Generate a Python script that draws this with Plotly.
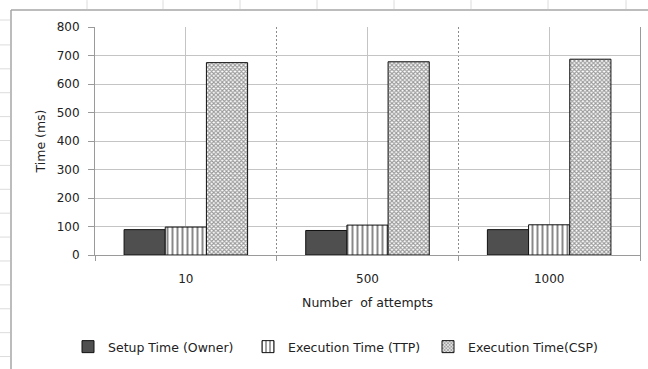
import plotly.graph_objects as go

categories = ["10", "500", "1000"]
setup_owner = [89, 86, 89]
exec_ttp = [98, 105, 106]
exec_csp = [675, 678, 687]
series_names = ["Setup Time (Owner)", "Execution Time (TTP)", "Execution Time(CSP)"]
y_ticks = [0, 100, 200, 300, 400, 500, 600, 700, 800]

W, H = 648, 369
L, R, T, B = 95, 8, 27, 113
PW, PH = W - L - R, H - T - B

def px(x):
    return (x - L) / PW

def py(y):
    return (H - B - y) / PH

xpos = list(range(len(categories)))
family = "DejaVu Sans, Verdana, sans-serif"
tick_font = dict(family=family, size=12, color="#222222")
title_font = dict(family=family, size=12.5, color="#222222")
legend_font = dict(family=family, size=12.5, color="#222222")

fig = go.Figure()
fig.add_trace(go.Bar(
    x=xpos, y=setup_owner, name=series_names[0],
    marker=dict(color="#4f4f4f", line=dict(color="#111111", width=1)),
))
fig.add_trace(go.Bar(
    x=xpos, y=exec_ttp, name=series_names[1],
    marker=dict(color="white", line=dict(color="#111111", width=1),
                pattern=dict(shape="|", size=5, solidity=0.4, fgcolor="#111111", bgcolor="white", fillmode="overlay")),
))
fig.add_trace(go.Bar(
    x=xpos, y=exec_csp, name=series_names[2],
    marker=dict(color="white", line=dict(color="#111111", width=1),
                pattern=dict(shape="x", size=3, solidity=0.6, fgcolor="#333333", bgcolor="white", fillmode="overlay")),
))

shapes = []
# outer chart border (Excel chart area)
shapes.append(dict(type="line", xref="paper", yref="paper", x0=px(11), x1=px(660), y0=py(10), y1=py(10),
                   line=dict(color="#a6a6a6", width=1.5)))
shapes.append(dict(type="line", xref="paper", yref="paper", x0=px(11), x1=px(11), y0=py(10), y1=py(380),
                   line=dict(color="#a6a6a6", width=1.5)))
# spreadsheet cell lines peeking out
for yy in [20, 45, 69, 93, 117, 141, 166, 190, 214, 238, 262, 286, 310, 334, 358]:
    shapes.append(dict(type="line", xref="paper", yref="paper", x0=px(0), x1=px(10), y0=py(yy), y1=py(yy),
                       line=dict(color="#dcdcdc", width=1)))
for xx in [87, 163, 240, 317, 394, 471, 548, 626]:
    shapes.append(dict(type="line", xref="paper", yref="paper", x0=px(xx), x1=px(xx), y0=py(0), y1=py(9),
                       line=dict(color="#dcdcdc", width=1)))

fig.update_layout(
    width=W, height=H,
    margin=dict(l=L, r=R, t=T, b=B),
    paper_bgcolor="white", plot_bgcolor="white",
    barmode="group", bargap=0.32, bargroupgap=0,
    showlegend=True,
    legend=dict(orientation="h", x=px(68), y=py(347), xanchor="left", yanchor="middle",
                entrywidth=135, entrywidthmode="pixels", font=legend_font, itemwidth=30,
                traceorder="normal", tracegroupgap=0),
    shapes=shapes,
)
fig.update_xaxes(
    range=[-0.5, len(categories) - 0.5],
    tickmode="array", tickvals=xpos, ticktext=categories,
    showgrid=True, gridcolor="#c4c4c4", gridwidth=1,
    showline=True, linecolor="#9a9a9a", linewidth=1,
    ticks="", zeroline=False, ticklabelstandoff=13,
    minor=dict(tickmode="array", tickvals=[i + 0.5 for i in xpos[:-1]] + [-0.5, len(categories) - 0.5],
               showgrid=True, griddash="2px,2px", gridcolor="#8c8c8c",
               ticks="outside", ticklen=5, tickcolor="#9a9a9a"),
    title=dict(text="Number  of attempts", font=title_font, standoff=12),
    tickfont=tick_font,
)
fig.update_yaxes(
    range=[0, 800], tickmode="array", tickvals=y_ticks,
    showgrid=True, gridcolor="#c4c4c4", gridwidth=1,
    showline=True, linecolor="#9a9a9a", linewidth=1, mirror=True,
    ticks="outside", ticklen=6, tickcolor="#9a9a9a",
    zeroline=False, ticklabelstandoff=6,
    title=dict(text="Time (ms)", font=title_font, standoff=8),
    tickfont=tick_font,
)

fig.write_html("out.html", config={"displayModeBar": False},
               post_script="document.body.style.margin='0';")
